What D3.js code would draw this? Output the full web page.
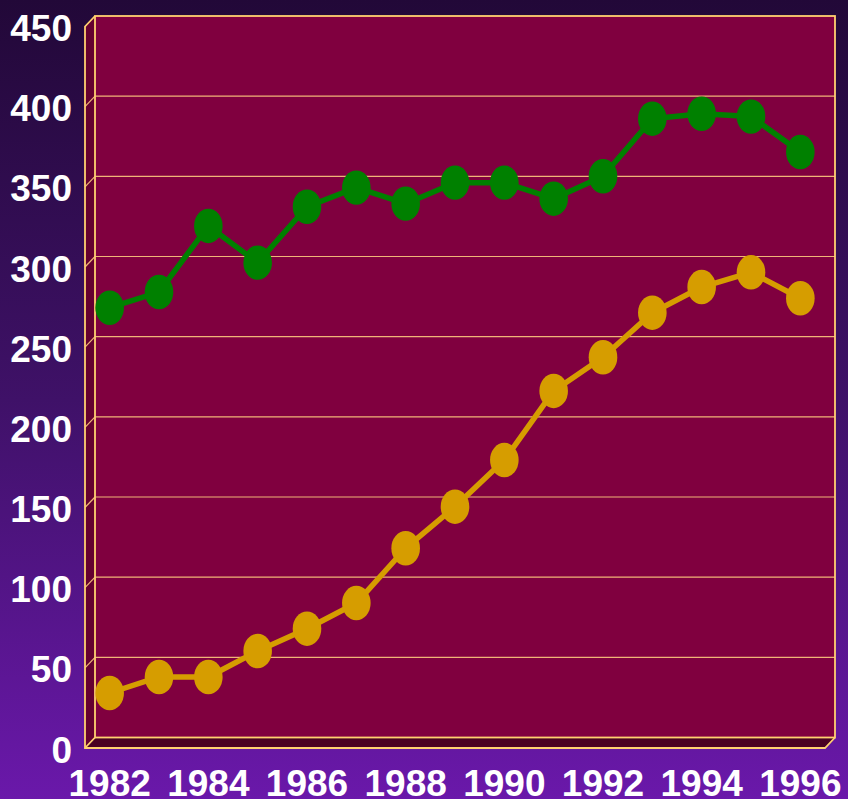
<!DOCTYPE html>
<html>
<head>
<meta charset="utf-8">
<script src="https://cdn.jsdelivr.net/npm/d3@7"></script>
<style>
html,body{margin:0;padding:0;background:#220838;}
svg{display:block;}
</style>
</head>
<body>
<svg id="chart" width="848" height="799"></svg>
<script>
const years = [1982,1983,1984,1985,1986,1987,1988,1989,1990,1991,1992,1993,1994,1995,1996];
const greenSeries = [274.6,284.4,325.6,302.7,337.6,349.5,339.5,352.6,352.6,342.6,356.6,392.5,395.6,393.8,371.7];
const goldSeries = [34.3,44.3,44.3,60.5,74.4,90.4,124.6,150.5,179.6,222.7,243.7,271.5,287.5,296.7,280.5];
const yTicks = [0,50,100,150,200,250,300,350,400,450];
const xTickLabels = [1982,1984,1986,1988,1990,1992,1994,1996];

const W = 848, H = 799;
const svg = d3.select("#chart");
const defs = svg.append("defs");
const grad = defs.append("linearGradient").attr("id","bg").attr("x1",0).attr("y1",0).attr("x2",0).attr("y2",1);
grad.append("stop").attr("offset","0%").attr("stop-color","#220838");
grad.append("stop").attr("offset","50%").attr("stop-color","#3f1168");
grad.append("stop").attr("offset","100%").attr("stop-color","#6a18aa");
svg.append("rect").attr("width",W).attr("height",H).attr("fill","url(#bg)");

// front plane geometry
const fL = 85, fR = 825, fB = 748, fT = 26.5;
const dx = 10, dy = -10.5;

const x = d3.scaleBand().domain(years).range([fL, fR]);
const xc = d => x(d) + x.bandwidth()/2;
const y = d3.scaleLinear().domain([0,450]).range([fB, fT]);

const borderCol = "#ffd070";
const gridCol = "#f0b478";

// back wall
svg.append("rect").attr("x", fL+dx).attr("y", fT+dy).attr("width", fR-fL).attr("height", fB-fT)
  .attr("fill","#80003f");
// left wall
svg.append("path").attr("d", `M${fL},${fT} L${fL+dx},${fT+dy} L${fL+dx},${fB+dy} L${fL},${fB} Z`).attr("fill","#650030");
// floor
svg.append("path").attr("d", `M${fL+dx},${fB+dy} L${fR+dx},${fB+dy} L${fR},${fB} L${fL},${fB} Z`).attr("fill","#4a0022");

// gridlines
const grid = svg.append("g");
yTicks.forEach(t => {
  if (t === 0 || t === 450) return;
  grid.append("line").attr("x1", fL+dx).attr("x2", fR+dx).attr("y1", y(t)+dy).attr("y2", y(t)+dy)
    .attr("stroke", gridCol).attr("stroke-width",1.2);
  grid.append("line").attr("x1", fL).attr("x2", fL+dx).attr("y1", y(t)).attr("y2", y(t)+dy)
    .attr("stroke", gridCol).attr("stroke-width",1.2);
});

// borders
const b = svg.append("g").attr("stroke", borderCol).attr("stroke-width",1.8).attr("fill","none");
b.append("rect").attr("x", fL+dx).attr("y", fT+dy).attr("width", fR-fL).attr("height", fB-fT);
b.append("path").attr("d", `M${fL+dx},${fT+dy} L${fL},${fT} L${fL},${fB} L${fR},${fB} L${fR+dx},${fB+dy}`);
b.append("line").attr("x1", fL).attr("y1", fB).attr("x2", fL+dx).attr("y2", fB+dy);

// series
const line = d3.line().x((d,i) => xc(years[i])).y(d => y(d));
function drawSeries(vals, col) {
  const g = svg.append("g");
  g.append("path").datum(vals).attr("d", line).attr("fill","none").attr("stroke", col).attr("stroke-width",5.5).attr("stroke-linejoin","round");
  g.selectAll("ellipse").data(vals).join("ellipse")
    .attr("cx", (d,i) => xc(years[i])).attr("cy", d => y(d))
    .attr("rx", 14.3).attr("ry", 17.2).attr("fill", col);
}
drawSeries(greenSeries, "#008000");
drawSeries(goldSeries, "#d69d00");

// y axis labels
svg.append("g").selectAll("text").data(yTicks).join("text")
  .attr("x", 72).attr("y", d => y(d) + 14.5)
  .attr("text-anchor","end")
  .attr("font-family","Liberation Sans, Arial, sans-serif").attr("font-weight","bold").attr("font-size",37)
  .attr("fill","#ffffff").text(d => d);

// x axis labels
svg.append("g").selectAll("text").data(xTickLabels).join("text")
  .attr("x", d => xc(d)).attr("y", 796)
  .attr("text-anchor","middle")
  .attr("font-family","Liberation Sans, Arial, sans-serif").attr("font-weight","bold").attr("font-size",37)
  .attr("fill","#ffffff").text(d => d);
</script>
</body>
</html>
